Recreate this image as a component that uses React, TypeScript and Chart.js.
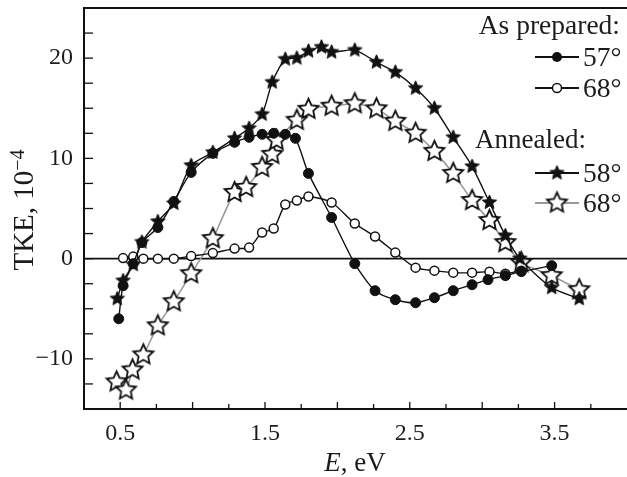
import { useEffect, useRef } from "react";
import { Chart, registerables } from "chart.js";

Chart.register(...registerables);

// ---- Data (E in eV, TKE in 10^-4) ----
const ePrepared57 = [0.49, 0.52, 0.59, 0.65, 0.76, 0.87, 0.99, 1.14, 1.29, 1.39, 1.48, 1.56, 1.64, 1.71, 1.80, 1.96, 2.12, 2.26, 2.40, 2.54, 2.67, 2.80, 2.93, 3.04, 3.16, 3.27, 3.48];
const tkePrepared57 = [-6.0, -2.7, -0.5, 1.6, 3.1, 5.7, 8.6, 10.5, 11.6, 12.1, 12.4, 12.5, 12.4, 12.0, 8.5, 4.1, -0.5, -3.2, -4.1, -4.4, -3.9, -3.2, -2.6, -2.1, -1.7, -1.3, -0.7];

const ePrepared68 = [0.52, 0.59, 0.66, 0.76, 0.87, 0.99, 1.14, 1.29, 1.39, 1.48, 1.56, 1.64, 1.72, 1.80, 1.96, 2.12, 2.26, 2.40, 2.54, 2.67, 2.80, 2.93, 3.05, 3.16, 3.27];
const tkePrepared68 = [0.05, 0.2, 0.0, 0.0, 0.0, 0.25, 0.55, 1.0, 1.1, 2.6, 3.0, 5.4, 5.8, 6.2, 5.6, 3.5, 2.2, 0.6, -0.9, -1.2, -1.4, -1.4, -1.3, -1.5, -1.2];

const eAnnealed58 = [0.48, 0.52, 0.59, 0.65, 0.76, 0.87, 0.99, 1.14, 1.29, 1.39, 1.48, 1.55, 1.64, 1.72, 1.80, 1.89, 1.96, 2.12, 2.27, 2.40, 2.54, 2.67, 2.80, 2.93, 3.05, 3.16, 3.26, 3.48, 3.67];
const tkeAnnealed58 = [-4.0, -2.2, -0.6, 1.65, 3.7, 5.5, 9.3, 10.6, 12.0, 13.0, 14.4, 17.6, 19.9, 20.0, 20.7, 21.1, 20.6, 20.8, 19.6, 18.6, 17.0, 15.0, 12.1, 9.2, 5.6, 2.3, 0.0, -2.9, -4.0];

const eAnnealed68 = [0.475, 0.54, 0.585, 0.66, 0.76, 0.87, 0.99, 1.14, 1.29, 1.37, 1.48, 1.55, 1.58, 1.72, 1.80, 1.96, 2.12, 2.27, 2.40, 2.54, 2.67, 2.80, 2.93, 3.05, 3.16, 3.27, 3.48, 3.67];
const tkeAnnealed68 = [-12.3, -13.1, -11.1, -9.6, -6.7, -4.3, -1.5, 2.0, 6.6, 7.1, 9.1, 10.4, 11.8, 13.8, 14.9, 15.2, 15.45, 14.95, 13.7, 12.5, 10.7, 8.5, 5.8, 3.8, 1.6, -0.4, -1.7, -3.1];

const xTickLabels = [0.5, 1.5, 2.5, 3.5];
const yTickLabels = [-10, 0, 10, 20];
const legendHeaders = ["As prepared:", "Annealed:"];
const seriesLabels = ["57°", "68°", "58°", "68°"];

const FONT = '"Liberation Serif", Tinos, "Times New Roman", Times, serif';
const TEXT = "#1c1c1c";

function makeStar(R: number, inner: number, fill: string, stroke: string, lw: number) {
  const pad = lw + 2;
  const size = Math.ceil(2 * (R + pad));
  const c = document.createElement("canvas");
  c.width = size;
  c.height = size;
  const ctx = c.getContext("2d")!;
  ctx.beginPath();
  for (let i = 0; i < 10; i++) {
    const r = i % 2 === 0 ? R : R * inner;
    const a = -Math.PI / 2 + (i * Math.PI) / 5;
    ctx.lineTo(size / 2 + r * Math.cos(a), size / 2 + r * Math.sin(a));
  }
  ctx.closePath();
  ctx.fillStyle = fill;
  ctx.fill();
  ctx.lineWidth = lw;
  ctx.strokeStyle = stroke;
  ctx.lineJoin = "miter";
  ctx.stroke();
  return c;
}

function toPoints(xs: number[], ys: number[]) {
  return xs.map((x, i) => ({ x, y: ys[i] }));
}

export default function App() {
  const ref = useRef<HTMLCanvasElement>(null);

  useEffect(() => {
    let chart: Chart | null = null;
    let cancelled = false;

    const build = () => {
      if (cancelled || !ref.current) return;
      const filledStar = makeStar(7.5, 0.45, "#111", "#111", 1);
      const openStar = makeStar(10.5, 0.48, "#fff", "#111", 1.8);

      const framePlugin = {
        id: "frame",
        beforeDatasetsDraw(c: any) {
          const { ctx, chartArea, scales } = c;
          const y0 = scales.y.getPixelForValue(0);
          ctx.save();
          ctx.strokeStyle = "#111";
          ctx.lineWidth = 1.6;
          ctx.beginPath();
          ctx.moveTo(chartArea.left, y0);
          ctx.lineTo(chartArea.right, y0);
          ctx.stroke();
          ctx.restore();
        },
        afterDraw(c: any) {
          const { ctx, chartArea, scales } = c;
          const { left, right, top, bottom } = chartArea;
          ctx.save();
          ctx.strokeStyle = "#111";
          ctx.lineWidth = 2;
          ctx.beginPath();
          ctx.moveTo(right, top);
          ctx.lineTo(left, top);
          ctx.lineTo(left, bottom);
          ctx.lineTo(right, bottom);
          ctx.stroke();

          ctx.lineWidth = 1.3;
          for (let v = -12.5; v <= 22.5; v += 2.5) {
            const py = scales.y.getPixelForValue(v);
            ctx.beginPath();
            ctx.moveTo(left, py);
            ctx.lineTo(left + 9, py);
            ctx.stroke();
          }
          for (let k = 2; k <= 15; k++) {
            const v = k * 0.25;
            const px = scales.x.getPixelForValue(v);
            const len = k % 2 === 0 ? 7 : 5;
            ctx.beginPath();
            ctx.moveTo(px, bottom);
            ctx.lineTo(px, bottom - len);
            ctx.stroke();
          }

          // x title
          ctx.fillStyle = TEXT;
          ctx.textBaseline = "alphabetic";
          ctx.font = `italic 27px ${FONT}`;
          const eW = ctx.measureText("E").width;
          ctx.font = `27px ${FONT}`;
          const restW = ctx.measureText(", eV").width;
          const xc = 355;
          const sx = xc - (eW + restW) / 2;
          ctx.textAlign = "left";
          ctx.font = `italic 27px ${FONT}`;
          ctx.fillText("E", sx, 471);
          ctx.font = `27px ${FONT}`;
          ctx.fillText(", eV", sx + eW, 471);

          // y title
          ctx.save();
          ctx.translate(24, 210);
          ctx.rotate(-Math.PI / 2);
          ctx.font = `29px ${FONT}`;
          const mainW = ctx.measureText("TKE, 10").width;
          ctx.font = `20px ${FONT}`;
          const supW = ctx.measureText("−4").width;
          const start = -(mainW + supW) / 2;
          ctx.font = `29px ${FONT}`;
          ctx.fillText("TKE, 10", start, 9);
          ctx.font = `20px ${FONT}`;
          ctx.fillText("−4", start + mainW, 0);
          ctx.restore();

          // legend
          ctx.font = `27.5px ${FONT}`;
          ctx.textAlign = "right";
          ctx.textBaseline = "alphabetic";
          ctx.fillStyle = TEXT;
          ctx.fillText(legendHeaders[0], 620, 34);
          ctx.font = `27px ${FONT}`;
          ctx.fillText(legendHeaders[1], 586, 148);
          ctx.font = `27.5px ${FONT}`;

          const rows = [
            { y: 57, label: seriesLabels[0], line: "#111", kind: "fc" },
            { y: 88, label: seriesLabels[1], line: "#111", kind: "oc" },
            { y: 173, label: seriesLabels[2], line: "#111", kind: "fs" },
            { y: 203, label: seriesLabels[3], line: "#9a9a9a", kind: "os" },
          ];
          ctx.textAlign = "left";
          ctx.textBaseline = "middle";
          for (const r of rows) {
            ctx.strokeStyle = r.line;
            ctx.lineWidth = 1.8;
            ctx.beginPath();
            ctx.moveTo(535, r.y);
            ctx.lineTo(579, r.y);
            ctx.stroke();
            if (r.kind === "fc") {
              ctx.fillStyle = "#111";
              ctx.beginPath();
              ctx.arc(557, r.y, 5, 0, Math.PI * 2);
              ctx.fill();
            } else if (r.kind === "oc") {
              ctx.fillStyle = "#fff";
              ctx.strokeStyle = "#111";
              ctx.lineWidth = 1.5;
              ctx.beginPath();
              ctx.arc(557, r.y, 4.5, 0, Math.PI * 2);
              ctx.fill();
              ctx.stroke();
            } else {
              const img = r.kind === "fs" ? filledStar : openStar;
              ctx.drawImage(img, 557 - img.width / 2, r.y - img.height / 2);
            }
            ctx.fillStyle = TEXT;
            ctx.fillText(r.label, 583, r.y + 2);
          }
          ctx.restore();
        },
      };

      chart = new Chart(ref.current, {
        type: "line",
        data: {
          datasets: [
            {
              label: "As prepared 57°",
              data: toPoints(ePrepared57, tkePrepared57),
              borderColor: "#111",
              borderWidth: 1.4,
              pointStyle: "circle",
              pointRadius: 5,
              pointBackgroundColor: "#111",
              pointBorderColor: "#111",
              pointBorderWidth: 1,
              tension: 0.25,
            },
            {
              label: "As prepared 68°",
              data: toPoints(ePrepared68, tkePrepared68),
              borderColor: "#111",
              borderWidth: 1.4,
              pointStyle: "circle",
              pointRadius: 4.5,
              pointBackgroundColor: "#fff",
              pointBorderColor: "#111",
              pointBorderWidth: 1.5,
              tension: 0.25,
            },
            {
              label: "Annealed 58°",
              data: toPoints(eAnnealed58, tkeAnnealed58),
              borderColor: "#111",
              borderWidth: 1.4,
              pointStyle: filledStar as any,
              tension: 0.25,
            },
            {
              label: "Annealed 68°",
              data: toPoints(eAnnealed68, tkeAnnealed68),
              borderColor: "#9a9a9a",
              borderWidth: 1.6,
              pointStyle: openStar as any,
              tension: 0.25,
            },
          ],
        },
        options: {
          responsive: false,
          animation: false,
          layout: { autoPadding: false, padding: { top: 8, right: 0, left: 0, bottom: 0 } },
          plugins: { legend: { display: false }, tooltip: { enabled: false } },
          scales: {
            x: {
              type: "linear",
              min: 0.25,
              max: 4.0,
              grid: { display: false, drawTicks: false },
              border: { display: false },
              afterBuildTicks: (s: any) => {
                s.ticks = xTickLabels.map((v) => ({ value: v }));
              },
              afterFit: (s: any) => {
                s.height = 68;
                s.paddingLeft = 0;
                s.paddingRight = 0;
              },
              ticks: {
                padding: 10,
                color: TEXT,
                font: { family: FONT, size: 24 },
                maxRotation: 0,
                autoSkip: false,
                callback: (v: any) => Number(v).toFixed(1),
              },
            },
            y: {
              min: -15,
              max: 25,
              grid: { display: false, drawTicks: false },
              border: { display: false },
              afterBuildTicks: (s: any) => {
                s.ticks = yTickLabels.map((v) => ({ value: v }));
              },
              afterFit: (s: any) => {
                s.width = 84;
                s.paddingTop = 0;
                s.paddingBottom = 0;
              },
              ticks: {
                padding: 11,
                color: TEXT,
                font: { family: FONT, size: 24 },
                autoSkip: false,
                callback: (v: any) => (v < 0 ? "−" + Math.abs(v) : String(v)),
              },
            },
          },
        },
        plugins: [framePlugin],
      });
    };

    const fonts: any = (document as any).fonts;
    if (fonts && fonts.load) {
      Promise.all([
        fonts.load(`24px "Liberation Serif"`),
        fonts.load(`italic 24px "Liberation Serif"`),
      ])
        .catch(() => null)
        .then(() => build());
    } else {
      build();
    }

    return () => {
      cancelled = true;
      if (chart) chart.destroy();
    };
  }, []);

  return (
    <div style={{ position: "fixed", left: 0, top: 0, width: 627, height: 477, background: "#fff" }}>
      <canvas ref={ref} width={627} height={477} style={{ width: 627, height: 477, display: "block" }} />
    </div>
  );
}
